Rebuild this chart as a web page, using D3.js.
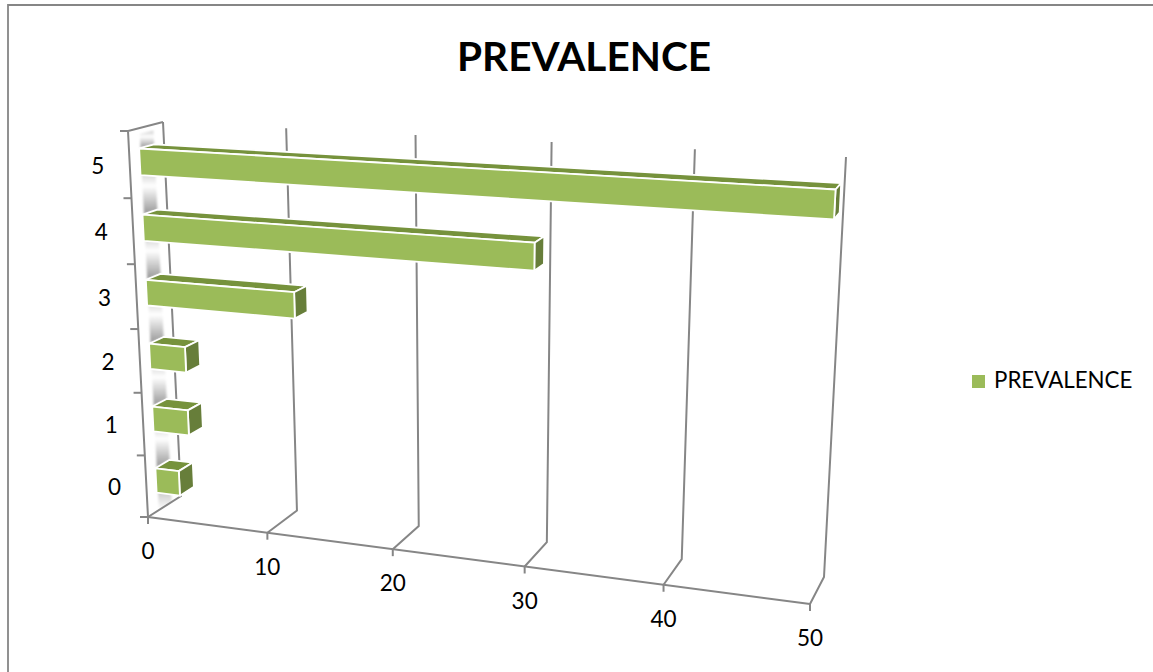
<!DOCTYPE html>
<html>
<head>
<meta charset="utf-8">
<script src="https://cdn.jsdelivr.net/npm/d3@7"></script>
<style>
  html, body { margin: 0; padding: 0; background: #fff; }
  svg { display: block; }
  text { font-family: Lato, "Open Sans", sans-serif; fill: #000; }
</style>
</head>
<body>
<svg id="chart" width="1153" height="672"></svg>
<script>
// Share of cases per score, drawn as a 3D horizontal bar chart
const categories = ["0", "1", "2", "3", "4", "5"];
const prevalence = [2, 3, 3, 12, 30, 50];
const valueTicks = [0, 10, 20, 30, 40, 50];
const seriesName = "PREVALENCE";
const chartTitle = "PREVALENCE";

const colors = { front: "#9bbb59", top: "#76923c", side: "#677e3a", grid: "#868686" };

const width = 1153, height = 672;
const svg = d3.select("#chart");

// Corners of the 3D plot box on screen
const box = {
  frontBottomLeft: [148, 517], frontBottomRight: [810, 604],
  frontTopLeft: [128, 131], frontTopRight: [833, 171],
  backBottomLeft: [181, 496], backBottomRight: [824, 577],
  backTopLeft: [163, 122], backTopRight: [846, 157]
};

// Linear scales into unit box coordinates
const xScale = d3.scaleLinear().domain([0, 50]).range([0, 1]);
const yBand = d3.scaleBand().domain(categories).range([0, 1]).paddingInner(0.6).paddingOuter(0.3);
const yEdge = d3.scaleLinear().domain([0, categories.length]).range([0, 1]);

// Foreshortening along an edge of the box
const foreshorten = (s, w) => s * w / (1 + (w - 1) * s);
const lerp = (a, b, t) => [a[0] + (b[0] - a[0]) * t, a[1] + (b[1] - a[1]) * t];

function project(u, v, d) {
  const t = foreshorten(u, 0.88), h = foreshorten(v, 0.949);
  const front = lerp(
    lerp(box.frontBottomLeft, box.frontBottomRight, t),
    lerp(box.frontTopLeft, box.frontTopRight, t), h);
  const back = lerp(
    lerp(box.backBottomLeft, box.backBottomRight, t),
    lerp(box.backTopLeft, box.backTopRight, t), h);
  return lerp(front, back, d);
}

const line = d3.line();
const closed = d3.line().curve(d3.curveLinearClosed);

// Chart frame: only the top and left edges show
svg.append("path")
  .attr("d", line([[8, height], [8, 5], [width, 5]]))
  .attr("fill", "none").attr("stroke", colors.grid).attr("stroke-width", 1.8);

// Side wall shading: one gradient for gaps between bars, one for the gap under the lowest bar
const defs = svg.append("defs");
function addGradient(id, stops) {
  defs.append("linearGradient").attr("id", id)
    .attr("x1", 0).attr("y1", 0).attr("x2", 0).attr("y2", 1)
    .selectAll("stop").data(stops).join("stop")
    .attr("offset", s => s[0]).attr("stop-color", s => s[1]);
}
addGradient("wallFade", [[0, "#cccccc"], [0.35, "#ffffff"], [1, "#969696"]]);
addGradient("floorFade", [[0, "#b4b4b4"], [1, "#ffffff"]]);
defs.append("filter").attr("id", "wallSoft")
  .append("feGaussianBlur").attr("stdDeviation", 1.3);

const barDepth = [0.29, 0.72];
const wallGaps = categories.map((c, i) => {
  const top = i === categories.length - 1 ? 0.985 : yBand(categories[i + 1]);
  return { lower: yBand(c) + yBand.bandwidth(), upper: top, fill: "url(#wallFade)" };
});
wallGaps.unshift({ lower: 0, upper: yBand(categories[0]), fill: "url(#floorFade)" });

svg.append("g").attr("filter", "url(#wallSoft)")
  .selectAll("path").data(wallGaps).join("path")
  .attr("d", g => closed([
    project(0, g.upper, barDepth[0] + 0.04), project(0, g.upper, barDepth[1]),
    project(0, g.lower, barDepth[1]), project(0, g.lower, barDepth[0] + 0.04)
  ]))
  .attr("fill", g => g.fill);

// Back wall and floor grid lines
const gridG = svg.append("g").attr("fill", "none")
  .attr("stroke", colors.grid).attr("stroke-width", 2);

gridG.selectAll("path.grid").data(valueTicks).join("path").attr("class", "grid")
  .attr("d", v => {
    const u = xScale(v);
    return line([project(u, 1, 1), project(u, 0, 1), project(u, 0, 0)]);
  });

// Value axis along the front of the floor
gridG.append("path")
  .attr("d", line([project(0, 0, 0), project(1, 0, 0)]));
gridG.selectAll("path.xtick").data(valueTicks).join("path").attr("class", "xtick")
  .attr("d", v => {
    const p = project(xScale(v), 0, 0);
    return line([p, [p[0], p[1] + 7]]);
  });

// Category axis up the front of the side wall, with the wall's top edge
gridG.append("path")
  .attr("d", line([project(0, 0, 0), project(0, 1, 0), project(0, 1, 1)]));
gridG.selectAll("path.ytick").data(d3.range(categories.length + 1)).join("path").attr("class", "ytick")
  .attr("d", i => {
    const p = project(0, yEdge(i), 0);
    return line([[p[0] - 8, p[1]], p]);
  });

// Bars: top, end and front faces
const bars = svg.append("g").selectAll("g")
  .data(categories.map((c, i) => ({ category: c, value: prevalence[i] })))
  .join("g")
  .attr("stroke", "#fff").attr("stroke-width", 1.8).attr("stroke-linejoin", "round");

const corner = (b, atEnd, atTop, depth) => project(
  atEnd ? xScale(b.value) : 0,
  yBand(b.category) + (atTop ? yBand.bandwidth() : 0),
  barDepth[depth]);

bars.append("path").attr("fill", colors.top)
  .attr("d", b => closed([corner(b, 0, 1, 0), corner(b, 0, 1, 1), corner(b, 1, 1, 1), corner(b, 1, 1, 0)]));
bars.append("path").attr("fill", colors.side)
  .attr("d", b => closed([corner(b, 1, 1, 0), corner(b, 1, 1, 1), corner(b, 1, 0, 1), corner(b, 1, 0, 0)]));
bars.append("path").attr("fill", colors.front)
  .attr("d", b => closed([corner(b, 0, 1, 0), corner(b, 1, 1, 0), corner(b, 1, 0, 0), corner(b, 0, 0, 0)]));

// Tick labels
svg.append("g").selectAll("text").data(valueTicks).join("text")
  .attr("x", v => project(xScale(v), 0, 0)[0])
  .attr("y", v => project(xScale(v), 0, 0)[1] + 42)
  .attr("text-anchor", "middle").attr("font-size", 22.5)
  .text(v => v);

svg.append("g").selectAll("text").data(categories).join("text")
  .attr("x", c => project(0, yBand(c) + yBand.bandwidth() / 2, 0)[0] - 32)
  .attr("y", c => project(0, yBand(c) + yBand.bandwidth() / 2, 0)[1] + 9)
  .attr("text-anchor", "middle").attr("font-size", 22.5)
  .text(c => c);

// Title
svg.append("text")
  .attr("x", 584).attr("y", 71)
  .attr("text-anchor", "middle").attr("font-size", 40.5).attr("font-weight", 700)
  .text(chartTitle);

// Legend
svg.append("rect").attr("x", 972).attr("y", 375).attr("width", 13).attr("height", 13)
  .attr("fill", colors.front);
svg.append("text").attr("x", 994).attr("y", 388).attr("font-size", 22.3).text(seriesName);
</script>
</body>
</html>
